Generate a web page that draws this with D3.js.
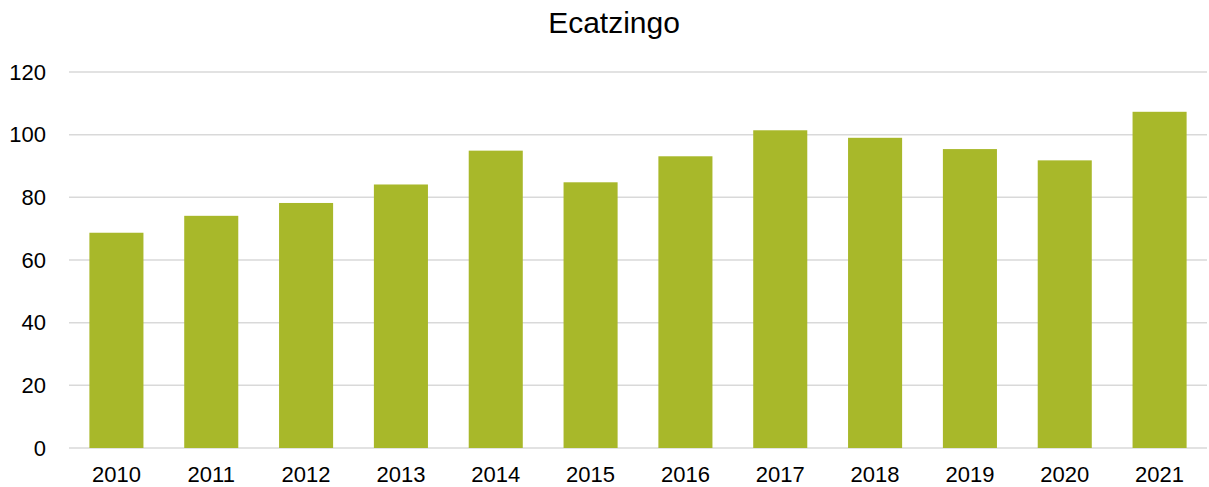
<!DOCTYPE html>
<html lang="es">
<head>
  <meta charset="UTF-8">
  <title>Ecatzingo</title>
  <script src="https://d3js.org/d3.v7.min.js"></script>
  <style>
    body { margin: 0; background: #fff; font-family: "Liberation Sans", Arial, sans-serif; }
    svg { display: block; }
  </style>
</head>
<body>
<svg id="chart" width="1209" height="487"></svg>
<script>
// Data
const years = ["2010", "2011", "2012", "2013", "2014", "2015", "2016", "2017", "2018", "2019", "2020", "2021"];
const values = [68.7, 74.1, 78.2, 84.1, 94.9, 84.8, 93.1, 101.4, 99.0, 95.4, 91.8, 107.3];
const yTicks = [0, 20, 40, 60, 80, 100, 120];
const title = "Ecatzingo";

const svg = d3.select("#chart");
const margin = { top: 72, right: 2, bottom: 39, left: 69 };
const width = +svg.attr("width");
const height = +svg.attr("height");

const x = d3.scaleBand()
  .domain(years)
  .range([margin.left, width - margin.right])
  .paddingInner(0.43)
  .paddingOuter(0.215);

const y = d3.scaleLinear()
  .domain([0, 120])
  .range([height - margin.bottom, margin.top]);

// Gridlines
svg.append("g")
  .selectAll("line")
  .data(yTicks)
  .join("line")
  .attr("x1", margin.left)
  .attr("x2", width - margin.right)
  .attr("y1", d => y(d))
  .attr("y2", d => y(d))
  .attr("stroke", "#d9d9d9")
  .attr("stroke-width", 1.5);

// Y axis labels
const yAxis = d3.axisLeft(y).tickValues(yTicks).tickSize(0).tickPadding(0);
svg.append("g")
  .attr("transform", `translate(46,0)`)
  .call(yAxis)
  .call(g => g.select(".domain").remove())
  .selectAll("text")
  .attr("font-family", "'Liberation Sans', Arial, sans-serif")
  .attr("font-size", 22)
  .attr("fill", "#000");

// Bars
svg.append("g")
  .selectAll("rect")
  .data(years.map((yr, i) => ({ yr, v: values[i] })))
  .join("rect")
  .attr("x", d => x(d.yr))
  .attr("width", x.bandwidth())
  .attr("y", d => y(d.v))
  .attr("height", d => y(0) - y(d.v))
  .attr("fill", "#a8b82a");

// X axis labels
const xAxis = d3.axisBottom(x).tickSize(0).tickPadding(18);
svg.append("g")
  .attr("transform", `translate(0,${y(0)})`)
  .call(xAxis)
  .call(g => g.select(".domain").remove())
  .selectAll("text")
  .attr("font-family", "'Liberation Sans', Arial, sans-serif")
  .attr("font-size", 22)
  .attr("fill", "#000");

// Title
svg.append("text")
  .attr("x", 614)
  .attr("y", 33)
  .attr("text-anchor", "middle")
  .attr("font-size", 30)
  .attr("fill", "#000")
  .text(title);
</script>
</body>
</html>
